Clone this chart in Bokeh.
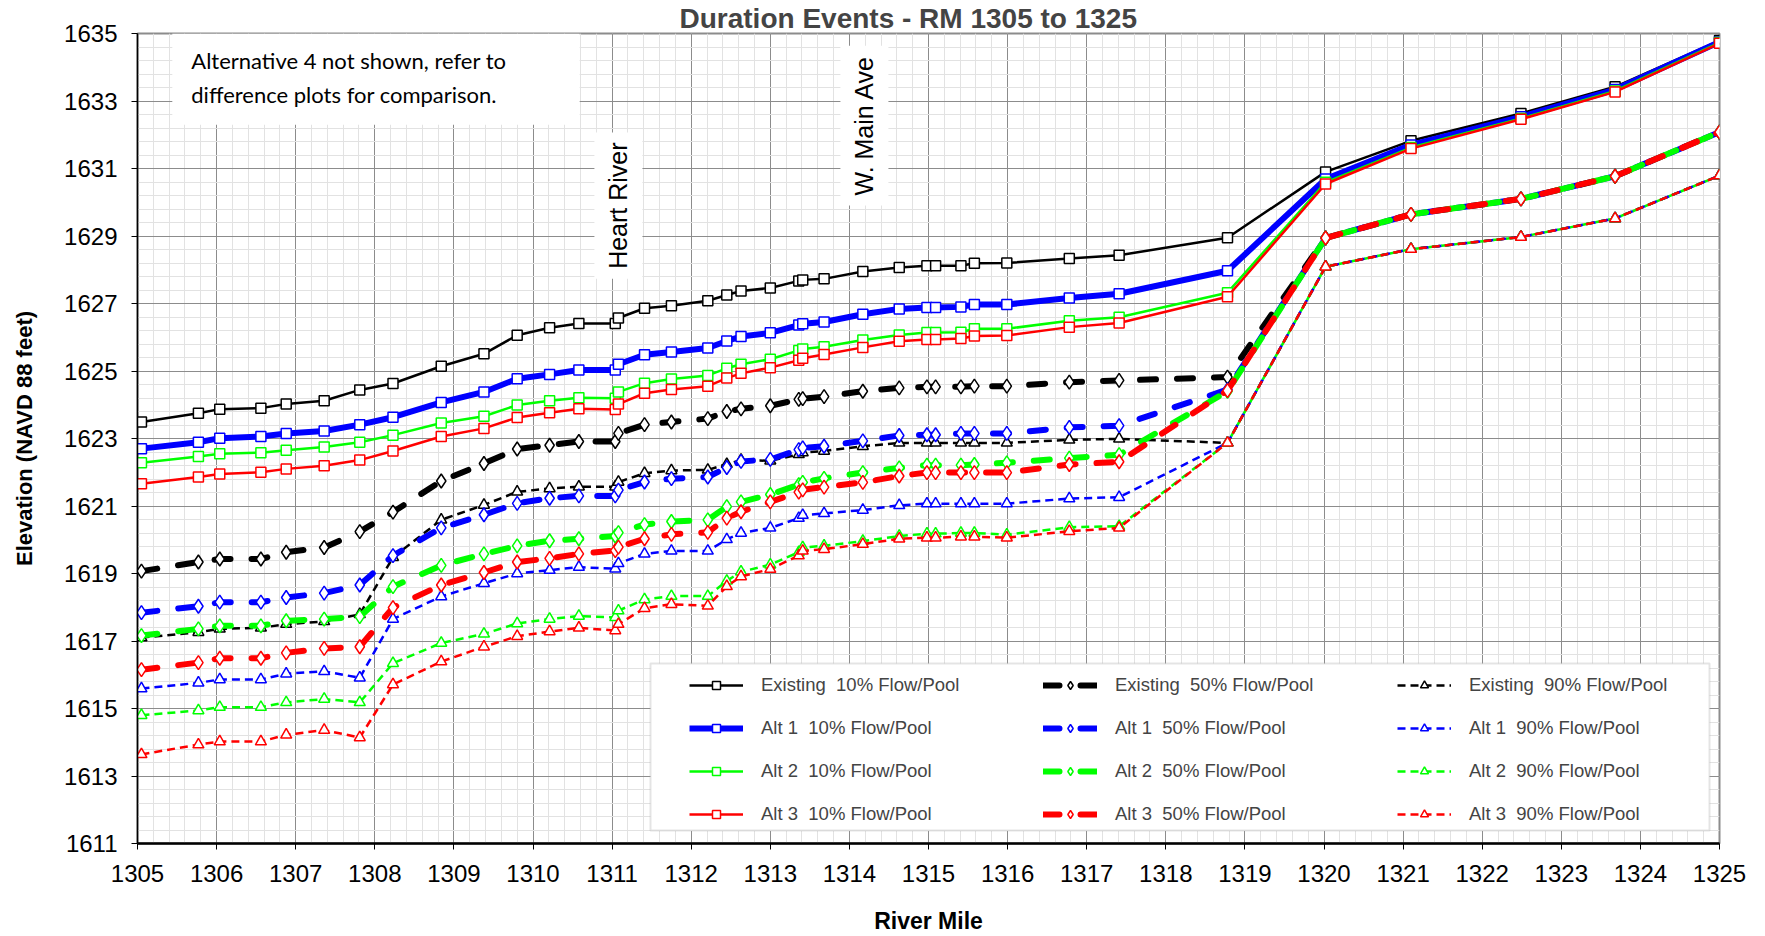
from bokeh.plotting import figure
from bokeh.models import FixedTicker, Legend, LegendItem, BoxAnnotation, Label, Range1d
from bokeh.embed import file_html
from bokeh.resources import INLINE

# ---------------- data ----------------
river_mile = [1305.05, 1305.77, 1306.04, 1306.56, 1306.88, 1307.36, 1307.81, 1308.23, 1308.84,
              1309.38, 1309.80, 1310.21, 1310.58, 1311.04, 1311.08, 1311.41, 1311.75, 1312.21,
              1312.45, 1312.63, 1313.00, 1313.36, 1313.41, 1313.68, 1314.17, 1314.63, 1314.98,
              1315.09, 1315.41, 1315.58, 1315.99, 1316.78, 1317.41, 1318.78, 1320.02, 1321.10,
              1322.49, 1323.68, 1325.00]

existing_10 = [1623.49, 1623.75, 1623.87, 1623.90, 1624.02, 1624.12, 1624.44, 1624.63, 1625.14,
               1625.51, 1626.06, 1626.28, 1626.41, 1626.41, 1626.57, 1626.86, 1626.93, 1627.08,
               1627.25, 1627.37, 1627.46, 1627.67, 1627.70, 1627.73, 1627.95, 1628.07, 1628.12,
               1628.12, 1628.12, 1628.19, 1628.20, 1628.33, 1628.43, 1628.95, 1630.90, 1631.82,
               1632.63, 1633.42, 1634.79]
alt1_10 = [1622.70, 1622.89, 1623.01, 1623.06, 1623.15, 1623.22, 1623.41, 1623.63, 1624.07,
           1624.38, 1624.77, 1624.90, 1625.03, 1625.03, 1625.20, 1625.48, 1625.56, 1625.68,
           1625.89, 1626.02, 1626.13, 1626.36, 1626.40, 1626.45, 1626.68, 1626.84, 1626.88,
           1626.88, 1626.90, 1626.97, 1626.97, 1627.16, 1627.29, 1627.97, 1630.69, 1631.70,
           1632.53, 1633.34, 1634.75]
alt2_10 = [1622.28, 1622.47, 1622.55, 1622.58, 1622.65, 1622.75, 1622.89, 1623.10, 1623.46,
           1623.66, 1623.99, 1624.12, 1624.21, 1624.19, 1624.38, 1624.64, 1624.76, 1624.87,
           1625.08, 1625.20, 1625.35, 1625.61, 1625.65, 1625.72, 1625.92, 1626.07, 1626.14,
           1626.14, 1626.15, 1626.25, 1626.25, 1626.49, 1626.59, 1627.32, 1630.59, 1631.62,
           1632.48, 1633.30, 1634.73]
alt3_10 = [1621.66, 1621.86, 1621.95, 1622.00, 1622.10, 1622.19, 1622.36, 1622.63, 1623.06,
           1623.30, 1623.62, 1623.76, 1623.88, 1623.86, 1624.02, 1624.34, 1624.45, 1624.55,
           1624.79, 1624.93, 1625.10, 1625.32, 1625.38, 1625.49, 1625.70, 1625.88, 1625.93,
           1625.93, 1625.96, 1626.04, 1626.05, 1626.30, 1626.42, 1627.20, 1630.54, 1631.59,
           1632.46, 1633.27, 1634.71]

existing_50 = [1619.07, 1619.34, 1619.43, 1619.43, 1619.63, 1619.77, 1620.24, 1620.82, 1621.74,
               1622.26, 1622.69, 1622.80, 1622.91, 1622.91, 1623.15, 1623.41, 1623.49, 1623.59,
               1623.80, 1623.88, 1623.97, 1624.16, 1624.18, 1624.24, 1624.40, 1624.50, 1624.53,
               1624.53, 1624.53, 1624.55, 1624.55, 1624.67, 1624.72, 1624.82, 1628.94, 1629.64,
               1630.10, 1630.77, 1632.08]
alt1_50 = [1617.84, 1618.03, 1618.15, 1618.15, 1618.29, 1618.42, 1618.66, 1619.53, 1620.35,
           1620.74, 1621.08, 1621.23, 1621.30, 1621.30, 1621.47, 1621.71, 1621.81, 1621.86,
           1622.14, 1622.32, 1622.38, 1622.67, 1622.72, 1622.77, 1622.93, 1623.09, 1623.11,
           1623.11, 1623.15, 1623.15, 1623.15, 1623.33, 1623.38, 1624.45, 1628.94, 1629.64,
           1630.10, 1630.77, 1632.08]
alt2_50 = [1617.16, 1617.36, 1617.45, 1617.45, 1617.60, 1617.65, 1617.72, 1618.61, 1619.24,
           1619.58, 1619.82, 1619.97, 1620.03, 1620.11, 1620.21, 1620.45, 1620.54, 1620.59,
           1620.98, 1621.12, 1621.34, 1621.63, 1621.70, 1621.82, 1621.99, 1622.13, 1622.21,
           1622.21, 1622.21, 1622.23, 1622.28, 1622.42, 1622.52, 1624.40, 1628.94, 1629.64,
           1630.10, 1630.77, 1632.08]
alt3_50 = [1616.15, 1616.36, 1616.49, 1616.49, 1616.65, 1616.78, 1616.83, 1617.99, 1618.66,
           1619.03, 1619.34, 1619.45, 1619.58, 1619.68, 1619.78, 1620.03, 1620.16, 1620.22,
           1620.64, 1620.83, 1621.12, 1621.41, 1621.48, 1621.56, 1621.70, 1621.89, 1621.99,
           1621.99, 1621.99, 1621.99, 1621.99, 1622.23, 1622.31, 1624.42, 1628.94, 1629.64,
           1630.10, 1630.77, 1632.08]

existing_90 = [1617.10, 1617.26, 1617.36, 1617.39, 1617.50, 1617.58, 1617.79, 1619.48, 1620.59,
               1621.03, 1621.42, 1621.52, 1621.57, 1621.57, 1621.71, 1621.97, 1622.05, 1622.07,
               1622.24, 1622.36, 1622.34, 1622.53, 1622.58, 1622.63, 1622.77, 1622.87, 1622.87,
               1622.87, 1622.87, 1622.87, 1622.87, 1622.96, 1622.99, 1622.87, 1628.09, 1628.61,
               1628.97, 1629.52, 1630.79]
alt1_90 = [1615.59, 1615.76, 1615.86, 1615.86, 1616.03, 1616.10, 1615.91, 1617.65, 1618.32,
           1618.71, 1619.00, 1619.10, 1619.19, 1619.14, 1619.30, 1619.58, 1619.67, 1619.67,
           1620.01, 1620.20, 1620.35, 1620.64, 1620.73, 1620.78, 1620.88, 1621.02, 1621.07,
           1621.07, 1621.07, 1621.07, 1621.07, 1621.22, 1621.26, 1622.87, 1628.09, 1628.61,
           1628.97, 1629.52, 1630.79]
alt2_90 = [1614.80, 1614.94, 1615.04, 1615.04, 1615.18, 1615.28, 1615.18, 1616.34, 1616.94,
           1617.21, 1617.52, 1617.65, 1617.74, 1617.70, 1617.90, 1618.23, 1618.33, 1618.33,
           1618.78, 1619.05, 1619.26, 1619.63, 1619.77, 1619.82, 1619.96, 1620.11, 1620.18,
           1620.18, 1620.20, 1620.20, 1620.15, 1620.37, 1620.40, 1622.87, 1628.09, 1628.61,
           1628.97, 1629.52, 1630.79]
alt3_90 = [1613.64, 1613.93, 1614.02, 1614.02, 1614.22, 1614.36, 1614.14, 1615.71, 1616.39,
           1616.83, 1617.14, 1617.28, 1617.39, 1617.31, 1617.50, 1617.97, 1618.09, 1618.04,
           1618.62, 1618.91, 1619.13, 1619.53, 1619.67, 1619.72, 1619.87, 1620.03, 1620.06,
           1620.06, 1620.09, 1620.09, 1620.06, 1620.25, 1620.35, 1622.87, 1628.09, 1628.61,
           1628.97, 1629.52, 1630.79]

x_ticks = list(range(1305, 1326))
y_ticks = list(range(1611, 1636, 2))

scenarios = ["Existing", "Alt 1", "Alt 2", "Alt 3"]
flows = ["10%", "50%", "90%"]
values = {
    ("Existing", "10%"): existing_10, ("Existing", "50%"): existing_50, ("Existing", "90%"): existing_90,
    ("Alt 1", "10%"): alt1_10, ("Alt 1", "50%"): alt1_50, ("Alt 1", "90%"): alt1_90,
    ("Alt 2", "10%"): alt2_10, ("Alt 2", "50%"): alt2_50, ("Alt 2", "90%"): alt2_90,
    ("Alt 3", "10%"): alt3_10, ("Alt 3", "50%"): alt3_50, ("Alt 3", "90%"): alt3_90,
}

# ---------------- styles ----------------
FONT = "Liberation Sans"
colors = {"Existing": "#000000", "Alt 1": "#0000FF", "Alt 2": "#00FF00", "Alt 3": "#FF0000"}
flow_style = {
    "10%": dict(dash="solid", marker="square", size=10, width=2.5, cap="butt"),
    "50%": dict(dash="16 21", marker="diamond", size=14, width=6, cap="round"),
    "90%": dict(dash="8 5", marker="triangle", size=11, width=2.5, cap="butt"),
}

p = figure(width=1765, height=936, output_backend="svg", toolbar_location=None,
           x_range=Range1d(1305, 1325), y_range=Range1d(1611, 1635),
           min_border_left=137, min_border_right=46, min_border_top=0, min_border_bottom=92)

p.title.text = "Duration Events - RM 1305 to 1325"
p.title.text_font = FONT
p.title.text_font_size = "28px"
p.title.text_font_style = "bold"
p.title.align = "left"
p.title.offset = 542
p.title.standoff = 0

p.outline_line_color = "#8c8c8c"
p.outline_line_width = 2

p.xaxis.ticker = FixedTicker(ticks=x_ticks, minor_ticks=[1305 + 0.2 * i for i in range(101)])
p.yaxis.ticker = FixedTicker(ticks=y_ticks, minor_ticks=[1611 + 0.4 * i for i in range(61)])
for ax in (p.xaxis, p.yaxis):
    ax.major_label_text_font = FONT
    ax.major_label_text_font_size = "24px"
    ax.major_label_text_color = "black"
    ax.axis_label_text_font = FONT
    ax.axis_label_text_font_style = "bold"
    ax.axis_label_text_color = "black"
    ax.minor_tick_line_color = None
    ax.major_tick_in = 0
    ax.major_tick_out = 6
    ax.axis_line_color = "black"
p.xaxis.axis_line_width = 2.5
p.yaxis.axis_line_width = 1.5
p.xaxis.axis_label = "River Mile"
p.yaxis.axis_label = "Elevation (NAVD 88 feet)"
p.xaxis.axis_label_text_font_size = "23px"
p.yaxis.axis_label_text_font_size = "22px"
p.xaxis.major_label_standoff = 15
p.xaxis.axis_label_standoff = 23
p.yaxis.major_label_standoff = 14
p.yaxis.axis_label_standoff = 24

for g in (p.xgrid, p.ygrid):
    g.grid_line_color = "#8c8c8c"
    g.grid_line_width = 1
    g.minor_grid_line_color = "#e2e2e2"
    g.minor_grid_line_width = 1

# ---------------- series ----------------
legend_map = {}
for sc in scenarios:
    for fl in flows:
        st = flow_style[fl]
        c = colors[sc]
        w = 6 if (sc == "Alt 1" and fl == "10%") else st["width"]
        ys = values[(sc, fl)]
        ln = p.line(river_mile, ys, line_color=c, line_width=w, line_dash=st["dash"],
                    line_cap=st["cap"], line_join="round")
        mk = p.scatter(river_mile, ys, marker=st["marker"], size=st["size"], line_color=c,
                       line_width=1.5, fill_color="white")
        legend_map[(sc, fl)] = [ln, mk]

items = []
for fl in flows:
    for sc in scenarios:
        items.append(LegendItem(label=f"{sc}  {fl} Flow/Pool", renderers=legend_map[(sc, fl)]))

# legend frame
legend_box = BoxAnnotation(left=513, right=1572, bottom=13, top=180,
                           left_units="screen", right_units="screen",
                           bottom_units="screen", top_units="screen",
                           fill_color="white", fill_alpha=1.0,
                           line_color="#a6a6a6", line_width=2)
p.add_layout(legend_box)

legend = Legend(items=items, location=(552, 18), orientation="vertical", nrows=4,
                glyph_width=54, glyph_height=20, label_height=20, label_width=261,
                label_standoff=18, spacing=21, padding=13, margin=0,
                label_text_font=FONT, label_text_font_size="18.5px",
                border_line_color=None, background_fill_alpha=0)
p.add_layout(legend)

# ---------------- annotations ----------------
note_box = BoxAnnotation(left=1305.44, right=1310.59, bottom=1632.3, top=1635,
                         fill_color="white", fill_alpha=1.0, line_color=None)
p.add_layout(note_box)
p.add_layout(Label(x=1305.68, y=1634.2, text="Alternative 4 not shown, refer to",
                   text_font="Lato", text_font_size="22px", text_baseline="middle",
                   text_color="black"))
p.add_layout(Label(x=1305.68, y=1633.2, text="difference plots for comparison.",
                   text_font="Lato", text_font_size="22px", text_baseline="middle",
                   text_color="black"))

p.add_layout(Label(x=1311.08, y=1629.9, text="Heart River", angle=90, angle_units="deg",
                   text_align="center", text_baseline="middle", text_font=FONT,
                   text_font_size="25px", text_color="black",
                   background_fill_color="white", padding=10))
p.add_layout(Label(x=1314.19, y=1632.27, text="W. Main Ave", angle=90, angle_units="deg",
                   text_align="center", text_baseline="middle", text_font=FONT,
                   text_font_size="25px", text_color="black",
                   background_fill_color="white", padding=10))

open("out.html", "w").write(file_html(p, INLINE))
